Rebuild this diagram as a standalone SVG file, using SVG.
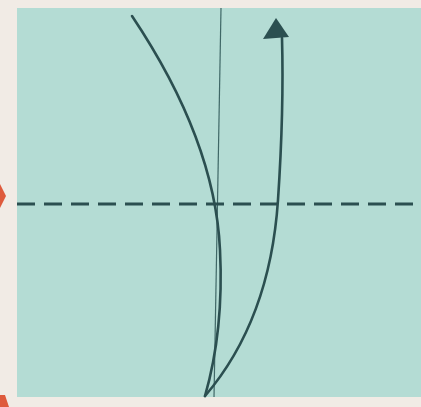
<svg xmlns="http://www.w3.org/2000/svg" width="421" height="407" viewBox="0 0 421 407">
  <style>
    .ink { fill: none; stroke: #2b4f50; stroke-width: 2.6; stroke-linecap: round; }
    .thin { fill: none; stroke: #3f6766; stroke-width: 1.2; }
    .dash { fill: none; stroke: #2b4f50; stroke-width: 3; stroke-dasharray: 18 9; }
    .mark { fill: #de5a3c; }
  </style>
  <rect width="421" height="407" fill="#f1ebe5"/>
  <g id="paper">
    <rect x="17" y="8" width="404" height="389" fill="#b4dcd4"/>
    <line class="thin" x1="221" y1="8" x2="214" y2="397"/>
    <line class="dash" x1="17" y1="204" x2="421" y2="204"/>
  </g>
  <g id="markers">
    <polygon class="mark" points="0,184 6,196 0,208"/>
    <polygon class="mark" points="0,395 5,395 9,407 0,407"/>
  </g>
  <g id="connectors">
    <path class="ink" d="M132,16 Q215,140 220,250 Q224,330 205,396"/>
    <path class="ink" d="M205,396 Q270,320 278,200 Q284,110 282,38"/>
    <polygon fill="#2b4f50" points="276,18 263,39 289,37"/>
  </g>
</svg>
